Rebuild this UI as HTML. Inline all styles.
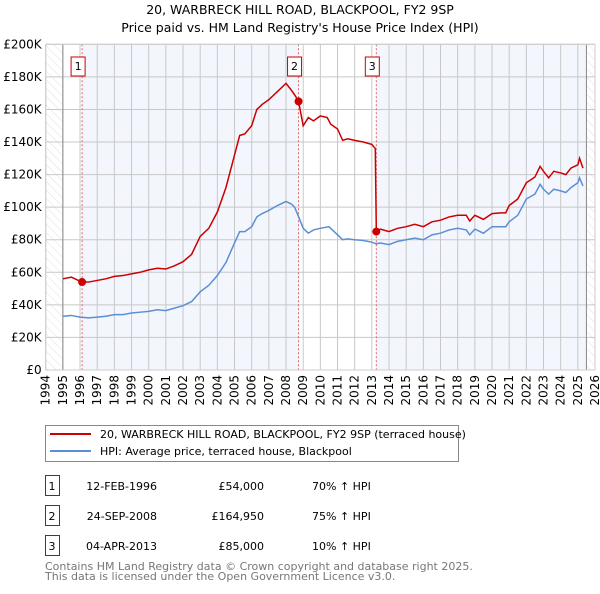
<!DOCTYPE html>
<html><head><meta charset="utf-8"><style>
body{margin:0;background:#fff;font-family:"DejaVu Sans","Liberation Sans",sans-serif;}
svg text{font-family:"DejaVu Sans","Liberation Sans",sans-serif;}
</style></head><body>
<svg id="c" width="600" height="590" xmlns="http://www.w3.org/2000/svg">
<defs><pattern id="hatch" width="6" height="6" patternUnits="userSpaceOnUse" patternTransform="rotate(-45)"><line x1="0" y1="0" x2="0" y2="6" stroke="#d8d8d8" stroke-width="0.8"/></pattern></defs>
<text x="300" y="14" text-anchor="middle" font-size="12.5">20, WARBRECK HILL ROAD, BLACKPOOL, FY2 9SP</text>
<text x="300" y="32" text-anchor="middle" font-size="12.5">Price paid vs. HM Land Registry's House Price Index (HPI)</text>
<g id="plot"></g>
<g>
<rect x="45.5" y="425.5" width="413" height="36" fill="#fff" stroke="#888"/>
<line x1="50" y1="434" x2="91" y2="434" stroke="#cc0000" stroke-width="2"/>
<text x="100" y="438" font-size="11">20, WARBRECK HILL ROAD, BLACKPOOL, FY2 9SP (terraced house)</text>
<line x1="50" y1="451" x2="91" y2="451" stroke="#5b8fd4" stroke-width="2"/>
<text x="100" y="455" font-size="11">HPI: Average price, terraced house, Blackpool</text>
</g>
<g id="table" font-size="11"></g>
<text x="45" y="570" font-size="11" fill="#777">Contains HM Land Registry data © Crown copyright and database right 2025.</text>
<text x="45" y="580" font-size="11" fill="#777">This data is licensed under the Open Government Licence v3.0.</text>
</svg>
<script>
const hpiYears=[1995,1995.5,1996,1996.5,1997,1997.5,1998,1998.5,1999,1999.5,2000,2000.5,2001,2001.5,2002,2002.5,2003,2003.5,2004,2004.5,2005,2005.3,2005.6,2006,2006.3,2006.6,2007,2007.5,2008,2008.3,2008.5,2008.7,2009,2009.3,2009.6,2010,2010.5,2011,2011.3,2011.6,2012,2012.5,2013,2013.25,2013.5,2014,2014.5,2015,2015.5,2016,2016.5,2017,2017.5,2018,2018.5,2018.7,2019,2019.5,2020,2020.5,2020.8,2021,2021.5,2022,2022.5,2022.8,2023,2023.3,2023.6,2024,2024.3,2024.6,2025,2025.1,2025.3];
const hpiValues=[33,33.5,32.5,32,32.5,33,34,34,35,35.5,36,37,36.5,38,39.5,42,48,52,58,66,78,85,85,88,94,96,98,101,103.5,102,100,95,87,84,86,87,88,83,80,80.5,80,79.5,78.5,77.5,78,77,79,80,81,80,83,84,86,87,86,83,86.5,84,88,88,88,91,95,105,108,114,111,108,111,110,109,112,115,118,113];
const priceYears=[1995,1995.5,1996.1,1996.5,1997,1997.5,1998,1998.5,1999,1999.5,2000,2000.5,2001,2001.5,2002,2002.5,2003,2003.5,2004,2004.5,2005,2005.3,2005.6,2006,2006.3,2006.6,2007,2007.5,2008,2008.3,2008.5,2008.73,2009,2009.3,2009.6,2010,2010.4,2010.6,2011,2011.3,2011.6,2012,2012.5,2013,2013.2,2013.26,2013.5,2014,2014.5,2015,2015.5,2016,2016.5,2017,2017.5,2018,2018.5,2018.7,2019,2019.5,2020,2020.5,2020.8,2021,2021.5,2022,2022.5,2022.8,2023,2023.3,2023.6,2024,2024.3,2024.6,2025,2025.1,2025.3];
const priceValues=[56,57,54,54,55,56,57.5,58,59,60,61.5,62.5,62,64,66.5,71,82,87,97,112,132,144,145,150,160,163,166,171,176,172,169,165,150,155,153,156,155,151,148,141,142,141,140,138.5,136,85,86.5,85,87,88,89.5,88,91,92,94,95,95,91.5,95,92.5,96,96.5,96.5,101,105,115,118.5,125,122,118,122,121,120,124,126,130,124];
const saleLabels=["1","2","3"];
const saleYears=[1996.12,2008.73,2013.26];
const saleValues=[54,164.95,85];
const saleDates=["12-FEB-1996","24-SEP-2008","04-APR-2013"];
const salePrices=["£54,000","£164,950","£85,000"];
const saleDiffs=["70% ↑ HPI","75% ↑ HPI","10% ↑ HPI"];
const yTicks=[0,20,40,60,80,100,120,140,160,180,200];
const xTicks=[1994,1995,1996,1997,1998,1999,2000,2001,2002,2003,2004,2005,2006,2007,2008,2009,2010,2011,2012,2013,2014,2015,2016,2017,2018,2019,2020,2021,2022,2023,2024,2025,2026];

const L=45.7,R=595,T=44.3,B=370;
const X=y=>L+(y-1994)/32*(R-L);
const Y=v=>B-v/200*(B-T);
const NS="http://www.w3.org/2000/svg";
const plot=document.getElementById('plot');
function mk(tag,attrs,parent){const e=document.createElementNS(NS,tag);for(const k in attrs)e.setAttribute(k,attrs[k]);(parent||plot).appendChild(e);return e;}

let e=mk('rect',{x:L,y:T,width:R-L,height:B-T,fill:'#fff'});


const shade=[[saleYears[0],saleYears[1]],[saleYears[2],2025.5]];
shade.forEach(s=>{const r=mk('rect',{x:X(s[0]),y:T,width:X(s[1])-X(s[0]),height:B-T,fill:'#f3f6fd'});

});
[[1994,1995],[2025.5,2026]].forEach(s=>{const r=mk('rect',{x:X(s[0]),y:T,width:X(s[1])-X(s[0]),height:B-T,fill:'url(#hatch)'});

});
yTicks.forEach(v=>{const l=mk('line',{x1:L,x2:R,y1:Y(v),y2:Y(v),stroke:'#c8c8c8','stroke-width':1});


const t=mk('text',{x:L-4,y:Y(v)+4,'text-anchor':'end','font-size':12});t.textContent=v===0?'£0':'£'+v+'K';

});
xTicks.forEach(y=>{const l=mk('line',{x1:X(y),x2:X(y),y1:T,y2:B,stroke:'#c8c8c8','stroke-width':1});


const t=mk('text',{transform:`translate(${X(y)+4},${B+5}) rotate(-90)`,'text-anchor':'end','font-size':12});t.textContent=y;

});
[1995,2025.5].forEach(y=>{const l=mk('line',{x1:X(y),x2:X(y),y1:T,y2:B,stroke:'#888','stroke-width':1});

});
saleYears.forEach((y,i)=>{const l=mk('line',{x1:X(y),x2:X(y),y1:T,y2:B,stroke:'#e06060','stroke-width':1,'stroke-dasharray':'2,2'});


const bx=X(y)-4;
const r=mk('rect',{x:bx-7,y:57,width:14,height:19,fill:'#fff',stroke:'#c00'});


const t=mk('text',{x:bx,y:70,'text-anchor':'middle','font-size':11});t.textContent=saleLabels[i];

});
const hp=mk('polyline',{points:hpiYears.map((y,i)=>X(y)+','+Y(hpiValues[i])).join(' '),fill:'none',stroke:'#5b8fd4','stroke-width':1.5});


const pp=mk('polyline',{points:priceYears.map((y,i)=>X(y)+','+Y(priceValues[i])).join(' '),fill:'none',stroke:'#cc0000','stroke-width':1.5});


saleYears.forEach((y,i)=>{const c=mk('circle',{cx:X(y),cy:Y(saleValues[i]),r:4,fill:'#cc0000'});

});
const fr=mk('rect',{x:L,y:T,width:R-L,height:B-T,fill:'none',stroke:'#ccc'});



const tb=document.getElementById('table');
saleLabels.forEach((s,i)=>{const y0=475+i*30;
const r=mk('rect',{x:45.5,y:y0+0.5,width:14,height:20,fill:'#fff',stroke:'#c00'},tb);


const cols=[[52,s,'middle'],[157,saleDates[i],'end'],[264,salePrices[i],'end'],[312,saleDiffs[i],'start']];
cols.forEach((c,j)=>{const t=mk('text',{x:c[0],y:y0+15,'text-anchor':c[2],'font-size':11},tb);t.textContent=c[1];

});});
</script>
</body></html>
